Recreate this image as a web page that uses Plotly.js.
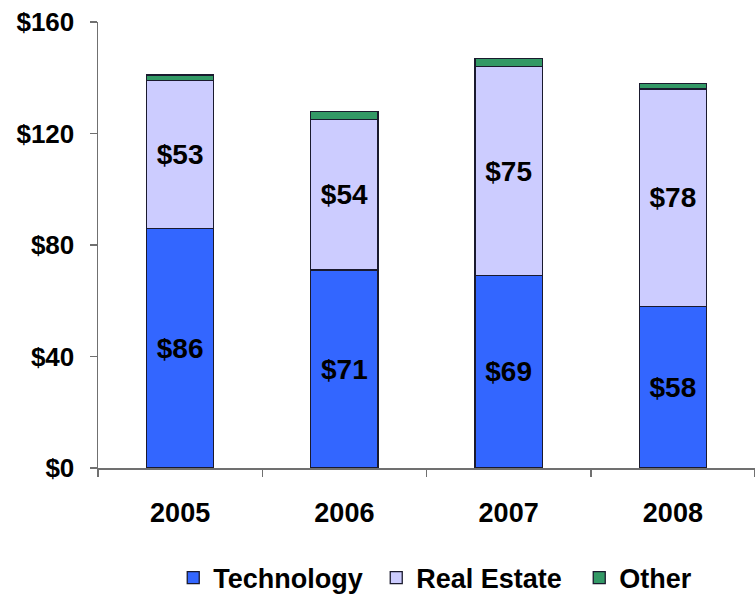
<!DOCTYPE html>
<html>
<head>
<meta charset="utf-8">
<script src="https://cdn.plot.ly/plotly-3.0.1.min.js"></script>
<style>html,body{margin:0;padding:0;background:#fff;}#chart{width:755px;height:595px;}</style>
</head>
<body>
<div id="chart"></div>
<script>
const years = ["2005", "2006", "2007", "2008"];
const technology = [86, 71, 69, 58];
const realEstate = [53, 54, 75, 78];
const other = [2, 3, 3, 2];
const yTickVals = [0, 40, 80, 120, 160];
const yTickText = ["$0", "$40", "$80", "$120", "$160"];

const font = {family: "Liberation Sans, Arial, sans-serif", weight: "bold", color: "#000"};
const lineStyle = {color: "#1a1a2e", width: 1.3};

const traces = [
  {type: "bar", name: "Technology", x: years, y: technology,
   marker: {color: "#3366FF", line: lineStyle},
   texttemplate: "$%{y}", textposition: "inside", insidetextanchor: "middle",
   textangle: 0, constraintext: "none",
   textfont: Object.assign({}, font, {size: 28}), hoverinfo: "skip"},
  {type: "bar", name: "Real Estate", x: years, y: realEstate,
   marker: {color: "#CCCCFF", line: lineStyle},
   texttemplate: "$%{y}", textposition: "inside", insidetextanchor: "middle",
   textangle: 0, constraintext: "none",
   textfont: Object.assign({}, font, {size: 28}), hoverinfo: "skip"},
  {type: "bar", name: "Other", x: years, y: other,
   marker: {color: "#339966", line: lineStyle},
   textposition: "none", hoverinfo: "skip"}
];

const layout = {
  width: 755, height: 595,
  margin: {l: 98, r: 0, t: 22, b: 127, autoexpand: false},
  paper_bgcolor: "#fff", plot_bgcolor: "#fff",
  barmode: "stack", bargap: 0.59,
  showlegend: true,
  font: Object.assign({}, font, {size: 25}),
  xaxis: {
    type: "category", range: [-0.5, 3.5], automargin: false,
    showline: true, linecolor: "#707070", linewidth: 1.5,
    ticks: "outside", tickson: "boundaries", ticklen: 7, tickcolor: "#707070", tickwidth: 1.5,
    showgrid: false, zeroline: false,
    tickfont: Object.assign({}, font, {size: 27}), ticklabelstandoff: 20
  },
  yaxis: {
    range: [0, 160], tickvals: yTickVals, ticktext: yTickText, automargin: false,
    showline: true, linecolor: "#707070", linewidth: 1.5,
    ticks: "outside", ticklen: 7, tickcolor: "#707070", tickwidth: 1.5,
    showgrid: false, zeroline: false,
    tickfont: Object.assign({}, font, {size: 26}), ticklabelstandoff: 10
  },
  legend: {
    orientation: "h", x: 0.578, xanchor: "center", y: -0.247, yanchor: "middle",
    traceorder: "normal", font: Object.assign({}, font, {size: 27}),
    itemwidth: 30, entrywidth: 158
  }
};

Plotly.newPlot("chart", traces, layout, {staticPlot: true, displayModeBar: false});
</script>
</body>
</html>
